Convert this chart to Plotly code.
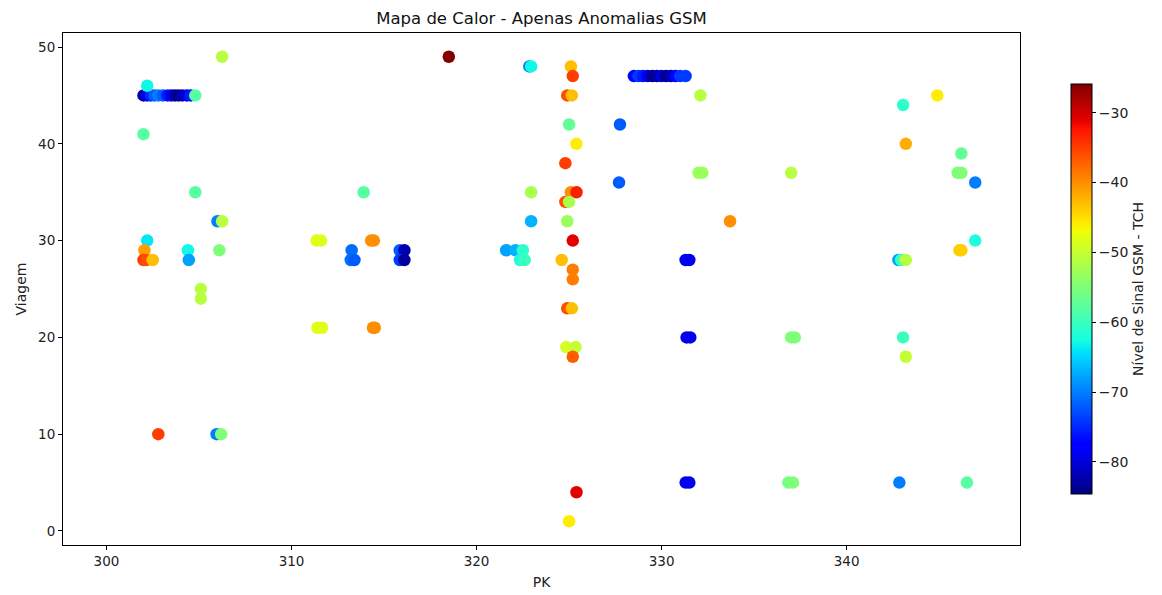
import numpy as np
import plotly.graph_objects as go

# GSM anomaly readings: PK (km), trip number, signal level (dBm)
pk = [
    302.0, 302.2, 302.4, 302.6, 302.8, 303.05, 303.3, 303.5, 303.7, 303.9, 304.1, 304.35, 304.55, 304.8,
    302.2, 302.0, 304.8, 306.25, 306.0, 306.25, 302.2, 302.05, 302.0, 302.15, 302.5,
    304.4, 304.45, 306.1, 305.1, 305.1, 311.35, 311.6, 313.25, 313.2, 313.4, 311.4, 311.65,
    302.8, 305.95, 306.2, 314.3, 314.45, 314.4, 314.5, 313.9,
    315.85, 316.1, 315.85, 316.1, 318.5,
    322.85, 322.95, 325.1, 325.2, 324.9, 325.15, 325.0, 325.4, 324.8,
    322.95, 325.1, 325.4, 324.8, 325.0, 322.95, 324.9, 327.75, 327.7,
    328.5, 328.75, 329.0, 329.25, 329.5, 329.75, 330.0, 330.25, 330.5, 330.75, 331.0, 331.3,
    332.1, 332.0, 332.2, 333.7, 325.2, 321.6, 322.1, 322.5, 322.35, 322.6, 324.6,
    325.2, 325.2, 324.9, 325.15, 331.3, 331.5, 324.85, 325.35, 325.2,
    331.35, 331.55, 337.0, 337.2, 325.4, 325.0, 331.3, 331.5, 336.85, 337.1,
    337.0, 343.05, 344.9, 343.2, 346.2, 346.0, 346.2, 346.95, 346.95, 346.1, 346.2,
    342.8, 342.95, 343.2, 343.05, 343.2, 342.85, 346.5,
]
viagem = [
    45, 45, 45, 45, 45, 45, 45, 45, 45, 45, 45, 45, 45, 45,
    46, 41, 35, 49, 32, 32, 30, 29, 28, 28, 28,
    29, 28, 29, 25, 24, 30, 30, 29, 28, 28, 21, 21,
    10, 10, 10, 30, 30, 21, 21, 35,
    29, 29, 28, 28, 49,
    48, 48, 48, 47, 45, 45, 42, 40, 38,
    35, 35, 35, 34, 34, 32, 32, 42, 36,
    47, 47, 47, 47, 47, 47, 47, 47, 47, 47, 47, 47,
    45, 37, 37, 32, 30, 29, 29, 29, 28, 28, 28,
    27, 26, 23, 23, 28, 28, 19, 19, 18,
    20, 20, 20, 20, 4, 1, 5, 5, 5, 5,
    37, 44, 45, 40, 39, 37, 37, 36, 30, 29, 29,
    28, 28, 28, 20, 18, 5, 5,
]
nivel = [
    -82, -80, -75, -72, -70, -72, -76, -78, -83, -84, -82, -80, -76, -58,
    -63, -58, -58, -51, -70, -51, -64, -41, -35, -36, -43,
    -63, -68, -55, -51, -51, -48, -48, -71, -71, -72, -48, -48,
    -35, -70, -55, -40, -40, -40, -40, -58,
    -72, -82, -74, -83, -26,
    -70, -63, -43, -35, -36, -43, -57, -46, -35,
    -52, -40, -33, -36, -52, -67, -53, -72, -72,
    -77, -74, -76, -79, -84, -83, -80, -84, -82, -78, -74, -74,
    -51, -53, -53, -40, -31, -68, -67, -61, -62, -60, -43,
    -39, -39, -36, -43, -79, -79, -49, -50, -37,
    -79, -79, -55, -55, -31, -46, -79, -79, -56, -55,
    -51, -61, -46, -42, -57, -55, -55, -70, -62, -44, -44,
    -68, -60, -51, -60, -50, -70, -58,
]

cbar_ticks = [-80, -70, -60, -50, -40, -30]


def jet_scale():
    """Matplotlib-style 'jet' colormap as a Plotly colorscale."""
    red = ([0, 0.35, 0.66, 0.89, 1], [0, 0, 1, 1, 0.5])
    green = ([0, 0.125, 0.375, 0.64, 0.91, 1], [0, 0, 1, 1, 0, 0])
    blue = ([0, 0.11, 0.34, 0.65, 1], [0.5, 1, 1, 0, 0])
    stops = sorted(set(red[0] + green[0] + blue[0]))
    scale = []
    for s in stops:
        r = np.interp(s, *red)
        g = np.interp(s, *green)
        b = np.interp(s, *blue)
        scale.append([s, f"rgb({int(round(r*255))},{int(round(g*255))},{int(round(b*255))})"])
    return scale


FONT = "DejaVu Sans, Liberation Sans, sans-serif"

fig = go.Figure(
    go.Scatter(
        x=pk,
        y=viagem,
        mode="markers",
        marker=dict(
            size=12.5,
            color=nivel,
            colorscale=jet_scale(),
            cmin=-84.6,
            cmax=-25.9,
            line=dict(width=0),
            colorbar=dict(
                title=dict(text="Nível de Sinal GSM - TCH", side="right",
                           font=dict(size=14, color="#222")),
                thickness=21,
                len=0.80,
                lenmode="fraction",
                x=1.053,
                xanchor="left",
                y=0.5,
                yanchor="middle",
                outlinewidth=1,
                outlinecolor="black",
                ticks="outside",
                ticklen=4,
                tickcolor="black",
                tickvals=cbar_ticks,
                ticktext=[f"\u2212{abs(v)}" for v in cbar_ticks],
                tickfont=dict(size=14, color="#222"),
                xpad=0,
                ypad=0,
            ),
        ),
        showlegend=False,
    )
)

axis_common = dict(
    showline=True,
    linecolor="black",
    linewidth=1,
    mirror=True,
    ticks="outside",
    ticklen=4,
    tickcolor="black",
    showgrid=False,
    zeroline=False,
    automargin=False,
    tickfont=dict(size=13.5, color="#222"),
)

fig.update_layout(
    width=1162,
    height=595,
    margin=dict(l=63, r=142, t=33, b=50),
    paper_bgcolor="white",
    plot_bgcolor="white",
    font=dict(family=FONT, color="#222"),
    title=dict(
        text="Mapa de Calor - Apenas Anomalias GSM",
        x=(63 + 1020) / 2 / 1162,
        xanchor="center",
        y=1 - 18 / 595,
        yanchor="middle",
        font=dict(size=16.5, color="#111"),
    ),
    xaxis=dict(
        range=[297.65, 349.37],
        tickvals=[300, 310, 320, 330, 340],
        title=dict(text="PK", font=dict(size=14), standoff=8),
        **axis_common,
    ),
    yaxis=dict(
        range=[-1.45, 51.45],
        tickvals=[0, 10, 20, 30, 40, 50],
        title=dict(text="Viagem", font=dict(size=14), standoff=8),
        **axis_common,
    ),
)

fig.write_html("out.html")
